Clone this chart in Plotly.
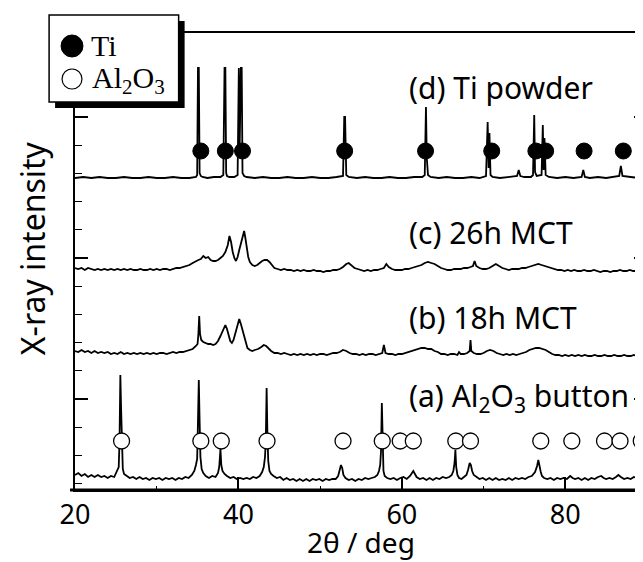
import plotly.graph_objects as go

# ---------------- data ----------------
# relative intensities (a.u.) above each pattern's own baseline
a_x = [20.0, 20.4, 20.8, 21.2, 21.6, 22.0, 22.4, 22.8, 23.2, 23.6, 24.0, 24.4, 24.8, 25.0, 25.2, 25.35, 25.45, 25.55, 25.65, 25.75, 25.85, 26.0, 26.3, 26.7, 27.1, 27.5, 27.9, 28.3, 28.7, 29.1, 29.5, 29.9, 30.3, 30.7, 31.1, 31.5, 31.9, 32.3, 32.7, 33.1, 33.5, 33.9, 34.3, 34.6, 34.8, 34.95, 35.05, 35.15, 35.25, 35.35, 35.5, 35.7, 36.0, 36.4, 36.8, 37.2, 37.5, 37.65, 37.8, 37.9, 38.05, 38.3, 38.6, 39.0, 39.4, 39.8, 40.2, 40.6, 41.0, 41.4, 41.8, 42.2, 42.6, 42.9, 43.1, 43.25, 43.35, 43.45, 43.55, 43.65, 43.8, 44.0, 44.3, 44.7, 45.1, 45.5, 45.9, 46.3, 46.7, 47.1, 47.5, 47.9, 48.3, 48.7, 49.1, 49.5, 49.9, 50.3, 50.7, 51.1, 51.5, 51.9, 52.2, 52.4, 52.55, 52.7, 52.85, 53.1, 53.5, 53.9, 54.3, 54.7, 55.1, 55.5, 55.9, 56.3, 56.7, 57.0, 57.2, 57.35, 57.45, 57.55, 57.65, 57.75, 57.9, 58.2, 58.6, 59.0, 59.4, 59.8, 60.2, 60.6, 61.0, 61.2, 61.4, 61.6, 61.8, 62.2, 62.6, 63.0, 63.4, 63.8, 64.2, 64.6, 65.0, 65.4, 65.8, 66.1, 66.3, 66.45, 66.55, 66.65, 66.8, 67.0, 67.3, 67.6, 67.9, 68.1, 68.3, 68.45, 68.6, 68.8, 69.1, 69.5, 69.9, 70.3, 70.7, 71.1, 71.5, 71.9, 72.3, 72.7, 73.1, 73.5, 73.9, 74.3, 74.7, 75.1, 75.5, 75.9, 76.3, 76.55, 76.7, 76.85, 77.0, 77.15, 77.4, 77.8, 78.2, 78.6, 79.0, 79.4, 79.8, 80.2, 80.6, 80.9, 81.2, 81.6, 82.0, 82.4, 82.8, 83.2, 83.6, 84.0, 84.4, 84.7, 85.0, 85.4, 85.8, 86.2, 86.5, 86.8, 87.2, 87.6, 88.0, 88.4, 88.8, 89.1, 89.4, 89.7, 90.0]
a_y = [6, 8, 5, 7, 4, 6, 4, 6, 4, 5, 3, 5, 4, 8, 12, 14, 40, 106, 70, 20, 12, 7, 5, 3, 4, 2, 4, 2, 3, 1, 3, 2, 3, 1, 3, 2, 3, 1, 3, 2, 4, 3, 6, 10, 16, 22, 60, 101, 60, 24, 12, 8, 5, 3, 5, 4, 8, 14, 32, 16, 10, 7, 5, 3, 4, 2, 3, 2, 3, 2, 4, 3, 5, 9, 14, 24, 40, 93, 45, 20, 10, 7, 5, 3, 4, 1, 3, 1, 2, 0, 2, 0, 2, 0, 2, 1, 2, 0, 2, 1, 2, 2, 5, 11, 16, 13, 6, 3, 1, 2, 0, 2, 1, 3, 2, 3, 4, 6, 10, 16, 30, 78, 28, 10, 5, 3, 2, 3, 1, 3, 4, 2, 5, 8, 10, 7, 4, 2, 3, 1, 3, 1, 3, 2, 4, 3, 4, 6, 10, 18, 31, 14, 6, 3, 2, 4, 6, 11, 18, 16, 10, 6, 4, 2, 3, 1, 3, 1, 3, 1, 2, 1, 3, 1, 3, 2, 3, 2, 4, 5, 9, 15, 21, 14, 9, 5, 3, 2, 3, 1, 3, 2, 3, 2, 5, 3, 2, 3, 1, 3, 1, 3, 2, 4, 5, 3, 2, 3, 2, 4, 6, 4, 2, 3, 2, 4, 3, 6, 4, 3, 3]

b_x = [20.0, 20.4, 20.8, 21.2, 21.6, 22.0, 22.4, 22.8, 23.2, 23.6, 24.0, 24.4, 24.8, 25.2, 25.6, 26.0, 26.4, 26.8, 27.2, 27.6, 28.0, 28.4, 28.8, 29.2, 29.6, 30.0, 30.4, 30.8, 31.2, 31.6, 32.0, 32.4, 32.8, 33.2, 33.6, 34.0, 34.4, 34.8, 35.0, 35.1, 35.2, 35.3, 35.45, 35.7, 36.0, 36.3, 36.6, 36.9, 37.2, 37.5, 37.8, 38.1, 38.4, 38.6, 38.8, 39.0, 39.2, 39.4, 39.6, 39.85, 40.1, 40.3, 40.5, 40.7, 40.9, 41.1, 41.4, 41.7, 42.0, 42.4, 42.8, 43.1, 43.4, 43.7, 44.0, 44.4, 44.8, 45.2, 45.6, 46.0, 46.4, 46.8, 47.2, 47.6, 48.0, 48.4, 48.8, 49.2, 49.6, 50.0, 50.4, 50.8, 51.2, 51.6, 52.0, 52.4, 52.8, 53.2, 53.6, 54.0, 54.4, 54.8, 55.2, 55.6, 56.0, 56.4, 56.8, 57.2, 57.6, 57.8, 58.0, 58.4, 58.8, 59.2, 59.6, 60.0, 60.4, 60.8, 61.2, 61.6, 62.0, 62.4, 62.8, 63.2, 63.6, 64.0, 64.4, 64.8, 65.2, 65.6, 66.0, 66.4, 66.8, 67.0, 67.2, 67.6, 68.0, 68.3, 68.4, 68.5, 68.8, 69.2, 69.6, 70.0, 70.4, 70.8, 71.2, 71.6, 72.0, 72.4, 72.8, 73.2, 73.6, 74.0, 74.4, 74.8, 75.2, 75.6, 76.0, 76.4, 76.8, 77.2, 77.6, 78.0, 78.4, 78.8, 79.2, 79.6, 80.0, 80.4, 80.8, 81.2, 81.6, 82.0, 82.4, 82.8, 83.2, 83.6, 84.0, 84.4, 84.8, 85.2, 85.6, 86.0, 86.4, 86.8, 87.2, 87.6, 88.0, 88.4, 88.8, 89.2, 89.6, 90.0]
b_y = [3, 2, 4, 2, 3, 1, 3, 1, 2, 1, 2, 0, 1, 0, 2, 0, 1, 0, 1, 0, 1, 0, 1, 0, 1, 0, 1, 1, 0, 1, 2, 1, 2, 2, 3, 4, 5, 8, 10, 20, 38, 20, 14, 12, 11, 10, 10, 9, 10, 13, 18, 24, 29, 25, 19, 13, 11, 14, 20, 28, 35, 30, 24, 16, 10, 6, 4, 3, 4, 5, 7, 9, 8, 5, 3, 1, 1, 0, 1, 0, -1, 0, -1, 0, -1, 0, -1, 0, -1, 0, 0, -1, 0, 1, 1, 2, 4, 3, 1, 0, 0, -1, 0, -1, 0, 0, -1, 0, 1, 9, 1, 0, 0, -1, 0, 0, 1, 2, 3, 4, 5, 6, 6, 5, 5, 3, 2, 0, 0, -1, 0, 0, -1, 2, 0, 0, 1, 3, 14, 3, 1, 0, 0, 1, 3, 4, 3, 1, 0, -1, 0, -1, 0, -1, 0, 1, 2, 4, 5, 6, 6, 5, 4, 2, 0, -1, -1, -2, -1, -2, -1, -2, -1, -2, -1, -2, -2, -1, -2, -2, -1, -2, -2, -1, -2, -2, -1, -2, -2, -1, -2, -2, -1, -2]

c_x = [20.0, 20.4, 20.8, 21.2, 21.6, 22.0, 22.4, 22.8, 23.2, 23.6, 24.0, 24.4, 24.8, 25.2, 25.6, 26.0, 26.4, 26.8, 27.2, 27.6, 28.0, 28.4, 28.8, 29.2, 29.6, 30.0, 30.4, 30.8, 31.2, 31.6, 32.0, 32.4, 32.8, 33.2, 33.6, 34.0, 34.4, 34.8, 35.1, 35.4, 35.7, 36.0, 36.3, 36.6, 36.9, 37.2, 37.5, 37.8, 38.1, 38.4, 38.7, 38.9, 39.1, 39.3, 39.5, 39.7, 39.9, 40.1, 40.3, 40.5, 40.7, 40.85, 41.0, 41.2, 41.4, 41.7, 42.0, 42.3, 42.6, 42.9, 43.2, 43.5, 43.8, 44.1, 44.4, 44.8, 45.2, 45.6, 46.0, 46.4, 46.8, 47.2, 47.6, 48.0, 48.4, 48.8, 49.2, 49.6, 50.0, 50.4, 50.8, 51.2, 51.6, 52.0, 52.4, 52.8, 53.2, 53.5, 53.8, 54.2, 54.6, 55.0, 55.4, 55.8, 56.2, 56.6, 57.0, 57.4, 57.8, 58.1, 58.4, 58.8, 59.2, 59.6, 60.0, 60.4, 60.8, 61.2, 61.6, 62.0, 62.4, 62.8, 63.2, 63.6, 64.0, 64.4, 64.8, 65.2, 65.6, 66.0, 66.4, 66.8, 67.2, 67.6, 68.0, 68.4, 68.7, 68.9, 69.1, 69.5, 69.9, 70.3, 70.7, 71.1, 71.5, 71.9, 72.3, 72.7, 73.1, 73.5, 73.9, 74.3, 74.7, 75.1, 75.5, 75.9, 76.3, 76.7, 77.1, 77.5, 77.9, 78.3, 78.7, 79.1, 79.5, 79.9, 80.3, 80.7, 81.1, 81.5, 81.9, 82.3, 82.7, 83.1, 83.5, 83.9, 84.3, 84.7, 85.1, 85.5, 85.9, 86.3, 86.7, 87.1, 87.5, 87.9, 88.3, 88.7, 89.1, 89.5, 90.0]
c_y = [1, 0, 1, -1, 1, 0, -1, 0, -1, 0, -1, 0, -1, 0, -1, 0, -1, 0, -1, -1, 0, -1, -1, 0, -1, 0, -1, 0, 0, -1, 0, 1, 1, 2, 3, 4, 6, 8, 9, 10, 13, 11, 12, 9, 8, 8, 9, 11, 13, 17, 24, 33, 27, 17, 11, 8, 12, 19, 25, 31, 38, 31, 22, 12, 7, 4, 3, 4, 6, 8, 9, 9, 7, 4, 1, 0, -1, 0, -1, -1, -2, -1, -2, -1, -2, -2, -1, -2, -2, -3, -2, -2, -1, -1, 0, 2, 5, 6, 4, 1, 0, -1, -2, -1, -2, -1, -1, 0, 1, 5, 2, 0, -1, -1, -1, 0, 0, 1, 2, 3, 4, 6, 7, 6, 5, 3, 1, 0, -1, -1, 0, 0, 0, 1, 1, 2, 3, 8, 3, 1, 0, 0, 1, 3, 5, 3, 1, 0, -1, 0, 0, 0, 1, 1, 2, 3, 4, 5, 4, 3, 2, 1, 0, -1, -1, -2, -1, -2, -1, -2, -2, -1, -2, -2, -1, -2, -3, -2, -2, -3, -2, -2, -1, -2, -2, -1, -2, -2, -1, -2, -2]

d_x = [20.0, 21.0, 22.0, 23.0, 24.0, 25.0, 26.0, 27.0, 28.0, 29.0, 30.0, 31.0, 32.0, 33.0, 34.0, 34.8, 34.95, 35.05, 35.15, 35.25, 35.4, 35.6, 36.2, 37.0, 37.8, 38.15, 38.3, 38.4, 38.5, 38.6, 38.9, 39.5, 39.9, 40.05, 40.15, 40.3, 40.4, 40.5, 40.7, 41.0, 42.0, 43.0, 44.0, 45.0, 46.0, 47.0, 48.0, 49.0, 50.0, 51.0, 52.0, 52.8, 52.95, 53.05, 53.2, 53.5, 54.5, 55.5, 56.5, 57.5, 58.5, 59.5, 60.5, 61.5, 62.5, 62.8, 62.95, 63.05, 63.2, 63.5, 64.5, 65.5, 66.5, 67.5, 68.5, 69.5, 70.3, 70.5, 70.62, 70.72, 70.85, 71.1, 72.0, 73.0, 74.1, 74.3, 74.5, 75.0, 75.8, 76.05, 76.2, 76.3, 76.5, 77.1, 77.25, 77.35, 77.45, 77.6, 78.0, 79.0, 80.0, 81.0, 82.0, 82.2, 82.4, 83.0, 84.0, 85.0, 86.0, 86.6, 86.8, 87.0, 88.0, 89.0, 90.0]
d_y = [0, 1, 0, 1, 0, 0, 1, 0, 0, 1, 0, 0, 1, 0, 0, 1, 3, 110, 110, 5, 2, 1, 0, 1, 1, 3, 110, 110, 5, 2, 1, 1, 3, 110, 30, 110, 110, 5, 2, 1, 0, 1, 0, 0, 1, 0, 0, 1, 0, 0, 1, 2, 61, 61, 3, 1, 0, 1, 0, 0, 1, 0, 0, 1, 1, 3, 71, 20, 3, 1, 0, 1, 0, 0, 1, 0, 2, 56, 10, 45, 3, 1, 0, 1, 2, 8, 2, 1, 1, 3, 63, 6, 2, 3, 53, 8, 40, 3, 1, 0, 1, 0, 1, 8, 1, 0, 1, 0, 1, 2, 12, 2, 1, 0, 1]

pattern_names = ["(a) Al<sub>2</sub>O<sub>3</sub> button", "(b) 18h MCT", "(c) 26h MCT", "(d) Ti powder"]
pattern_offsets = [9, 136, 221, 312]

ti_peaks = [35.4, 38.4, 40.5, 53.0, 62.9, 71.0, 76.4, 77.6, 82.3, 87.1]
al2o3_peaks = [25.7, 35.4, 37.9, 43.5, 52.8, 57.6, 59.8, 61.4, 66.6, 68.4, 77.0, 80.8, 84.8, 86.7, 89.3]

x_ticks = [20, 40, 60, 80]

# ---------------- layout helpers ----------------
W, H = 643, 562
L, R, T, B = 67, 2, 25, 80
PW, PH = W - L - R, H - T - B


def px(x):
    return (x - L) / PW


def py(y):
    return (H - B - y) / PH


SANS = "Noto Sans"
SERIF = "Liberation Serif"

fig = go.Figure()

for xs, ys, off in [(a_x, a_y, pattern_offsets[0]), (b_x, b_y, pattern_offsets[1]),
                    (c_x, c_y, pattern_offsets[2]), (d_x, d_y, pattern_offsets[3])]:
    fig.add_trace(go.Scatter(x=xs, y=[v + off for v in ys], mode="lines",
                             line=dict(color="black", width=1.8), showlegend=False,
                             hoverinfo="skip"))

TI_LEVEL = pattern_offsets[3] + 27
AL_LEVEL = 49
fig.add_trace(go.Scatter(x=ti_peaks, y=[TI_LEVEL] * len(ti_peaks), mode="markers",
                         marker=dict(symbol="circle", size=16, color="black",
                                     line=dict(color="black", width=1)),
                         showlegend=False, hoverinfo="skip"))
fig.add_trace(go.Scatter(x=al2o3_peaks, y=[AL_LEVEL] * len(al2o3_peaks), mode="markers",
                         marker=dict(symbol="circle", size=16, color="white",
                                     line=dict(color="black", width=1.3)),
                         showlegend=False, hoverinfo="skip"))

shapes = [
    # thick bottom axis
    dict(type="line", xref="paper", yref="paper", x0=px(62), x1=px(641), y0=0, y1=0,
         line=dict(color="black", width=3)),
    # legend shadow + box
    dict(type="rect", xref="paper", yref="paper", x0=px(47), x1=px(177), y0=py(100), y1=py(13),
         fillcolor="black", line=dict(width=0)),
    dict(type="rect", xref="paper", yref="paper", x0=px(41), x1=px(171), y0=py(94), y1=py(7),
         fillcolor="white", line=dict(color="black", width=1.5)),
    dict(type="circle", xref="paper", yref="paper", x0=px(53), x1=px(75), y0=py(49), y1=py(27),
         fillcolor="black", line=dict(color="black", width=1)),
    dict(type="circle", xref="paper", yref="paper", x0=px(54), x1=px(74), y0=py(81), y1=py(61),
         fillcolor="white", line=dict(color="black", width=1.2)),
]

label_y = [389, 309, 224, 79]
annotations = []
for name, yy in zip(pattern_names, label_y):
    annotations.append(dict(text=name, x=px(400), y=py(yy), xref="paper", yref="paper",
                             xanchor="left", yanchor="middle", showarrow=False,
                             font=dict(family=SANS, size=30, color="black")))
annotations += [
    dict(text="Ti", x=px(81), y=py(37), xref="paper", yref="paper", xanchor="left",
         yanchor="middle", showarrow=False, font=dict(family=SERIF, size=30, color="black")),
    dict(text="Al<sub>2</sub>O<sub>3</sub>", x=px(82), y=py(72), xref="paper", yref="paper",
         xanchor="left", yanchor="middle", showarrow=False,
         font=dict(family=SERIF, size=30, color="black")),
    dict(text="2θ / deg", x=px(354), y=py(534), xref="paper", yref="paper", xanchor="center",
         yanchor="middle", showarrow=False, font=dict(family=SANS, size=28, color="black")),
    dict(text="X-ray intensity", x=px(24), y=py(240), xref="paper", yref="paper",
         xanchor="center", yanchor="middle", textangle=-90, showarrow=False,
         font=dict(family=SANS, size=32, color="black")),
]

fig.update_layout(
    width=W, height=H,
    margin=dict(l=L, r=R, t=T, b=B, pad=0),
    paper_bgcolor="white", plot_bgcolor="white",
    showlegend=False,
    shapes=shapes, annotations=annotations,
    xaxis=dict(range=[20, 90], tickvals=x_ticks, ticktext=[str(v) for v in x_ticks],
               ticks="inside", ticklen=13, tickwidth=1.5, tickcolor="black",
               minor=dict(dtick=10, tick0=20, ticks="inside", ticklen=4, tickwidth=1.2,
                          tickcolor="black"),
               showline=True, linecolor="black", linewidth=1.5, mirror=True,
               showgrid=False, zeroline=False,
               tickfont=dict(family=SANS, size=27, color="black")),
    yaxis=dict(range=[0, PH], tick0=91, dtick=141, ticks="inside", ticklen=13, tickwidth=1.5,
               tickcolor="black", showticklabels=False,
               minor=dict(tick0=91, dtick=28.2, ticks="inside", ticklen=7, tickwidth=1.2,
                          tickcolor="black"),
               showline=True, linecolor="black", linewidth=1.5, mirror="ticks",
               showgrid=False, zeroline=False),
)

fig.write_html("out.html")
